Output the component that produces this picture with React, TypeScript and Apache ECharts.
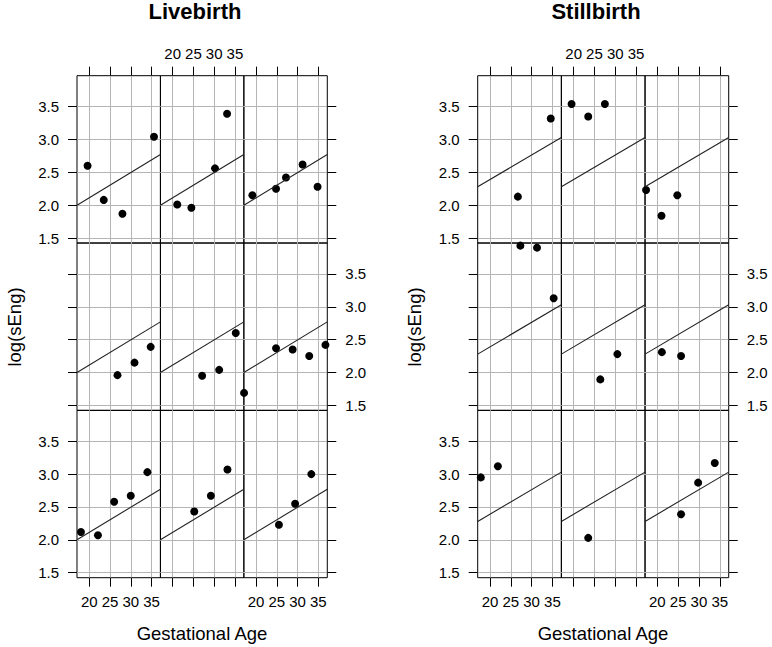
import React, { useEffect, useRef } from "react";
import * as echarts from "echarts";

// Axis ranges and ticks
const X_MIN = 17.05;
const X_MAX = 37.15;
const Y_MIN = 1.424;
const Y_MAX = 3.97;
const X_TICKS = [20, 25, 30, 35];
const Y_TICKS = [1.5, 2.0, 2.5, 3.0, 3.5];

const PANEL_TITLES = ["Livebirth", "Stillbirth"];
const X_TITLE = "Gestational Age";
const Y_TITLE = "log(sEng)";

// Fitted line (start/end) per panel
const LINE_X = [17.05, 37.15];
const LIVE_LINE_Y = [2.0, 2.77];
const STILL_LINE_Y = [2.28, 3.03];

// Livebirth points, sub-panels ordered row by row (top-left first)
const LIVE_X = [
  [19.6, 23.5, 28.0, 35.6],
  [21.1, 24.5, 30.2, 33.1],
  [19.1, 24.8, 27.2, 31.2, 34.8],
  [26.8, 30.9, 34.8],
  [27.1, 31.2, 35.2],
  [17.1, 24.8, 28.8, 32.8, 36.7],
  [18.0, 22.1, 26.0, 30.0, 34.0],
  [25.2, 29.2, 33.2],
  [25.5, 29.4, 33.3],
];
const LIVE_Y = [
  [2.6, 2.08, 1.87, 3.04],
  [2.01, 1.96, 2.56, 3.39],
  [2.15, 2.25, 2.42, 2.62, 2.28],
  [1.96, 2.15, 2.39],
  [1.95, 2.04, 2.6],
  [1.69, 2.37, 2.35, 2.25, 2.42],
  [2.12, 2.07, 2.58, 2.67, 3.03],
  [2.43, 2.67, 3.07],
  [2.23, 2.55, 3.0],
];

// Stillbirth points
const STILL_X = [
  [26.7, 34.6],
  [19.5, 23.5, 27.5],
  [17.3, 21.0, 24.8],
  [27.3, 31.3, 35.3],
  [26.4, 30.5],
  [21.1, 25.7],
  [17.8, 21.9, 29.9],
  [23.5],
  [25.7, 29.8, 33.8],
];
const STILL_Y = [
  [2.13, 3.32],
  [3.54, 3.35, 3.54],
  [2.23, 1.84, 2.15],
  [3.93, 3.9, 3.13],
  [1.895, 2.28],
  [2.31, 2.25],
  [2.95, 3.12, 1.41],
  [2.03],
  [2.39, 2.87, 3.17],
];

const FONT = "'Liberation Sans', Arial, Helvetica, sans-serif";

export default function App() {
  const ref = useRef<HTMLDivElement>(null);

  useEffect(() => {
    if (!ref.current) return;
    const chart = echarts.init(ref.current, undefined, { renderer: "svg" });

    const panels = [
      { left: 77, colW: 83.43, xs: LIVE_X, ys: LIVE_Y, line: LIVE_LINE_Y },
      { left: 477.7, colW: 83.67, xs: STILL_X, ys: STILL_Y, line: STILL_LINE_Y },
    ];
    const rowTop = 75.7;
    const rowH = 167.33;

    const grids: any[] = [];
    const xAxes: any[] = [];
    const yAxes: any[] = [];
    const series: any[] = [];

    const labelStyle = { fontSize: 15, color: "#000", fontFamily: FONT };
    const tickStyle = { color: "#000", width: 1 };
    const gridLine = { color: "#b5b5b5", width: 1 };

    panels.forEach((p) => {
      for (let r = 0; r < 3; r++) {
        for (let c = 0; c < 3; c++) {
          const k = r * 3 + c;
          const g = grids.length;
          grids.push({
            left: p.left + c * p.colW,
            top: rowTop + r * rowH,
            width: p.colW,
            height: rowH,
            show: true,
            borderColor: "#000",
            borderWidth: 1,
            backgroundColor: "transparent",
            containLabel: false,
          });
          const xi = xAxes.length;
          xAxes.push({
            gridIndex: g,
            type: "value",
            min: X_MIN,
            max: X_MAX,
            position: "bottom",
            axisLine: { show: false },
            axisTick: { show: r === 2, length: 9, inside: false, customValues: X_TICKS, lineStyle: tickStyle },
            axisLabel: { show: r === 2 && c !== 1, customValues: X_TICKS, margin: 16, ...labelStyle },
            splitLine: { show: true, lineStyle: gridLine },
          });
          if (r === 0) {
            xAxes.push({
              gridIndex: g,
              type: "value",
              min: X_MIN,
              max: X_MAX,
              position: "top",
              axisLine: { show: false },
              axisTick: { show: true, length: 9, inside: false, customValues: X_TICKS, lineStyle: tickStyle },
              axisLabel: { show: c === 1, customValues: X_TICKS, margin: 15, ...labelStyle },
              splitLine: { show: false },
            });
          }
          const yi = yAxes.length;
          yAxes.push({
            gridIndex: g,
            type: "value",
            min: Y_MIN,
            max: Y_MAX,
            position: "left",
            axisLine: { show: false },
            axisTick: { show: c === 0, length: 9, inside: false, customValues: Y_TICKS, lineStyle: tickStyle },
            axisLabel: {
              show: c === 0 && r !== 1,
              customValues: Y_TICKS,
              margin: 18,
              formatter: (v: number) => v.toFixed(1),
              ...labelStyle,
            },
            splitLine: { show: true, lineStyle: gridLine },
          });
          if (c === 2) {
            yAxes.push({
              gridIndex: g,
              type: "value",
              min: Y_MIN,
              max: Y_MAX,
              position: "right",
              axisLine: { show: false },
              axisTick: { show: true, length: 9, inside: false, customValues: Y_TICKS, lineStyle: tickStyle },
              axisLabel: {
                show: r === 1,
                customValues: Y_TICKS,
                margin: 18,
                formatter: (v: number) => v.toFixed(1),
                ...labelStyle,
              },
              splitLine: { show: false },
            });
          }
          series.push({
            type: "line",
            xAxisIndex: xi,
            yAxisIndex: yi,
            data: LINE_X.map((x, i) => [x, p.line[i]]),
            showSymbol: false,
            symbol: "none",
            lineStyle: { color: "#222", width: 1.1 },
            silent: true,
            clip: true,
          });
          series.push({
            type: "scatter",
            xAxisIndex: xi,
            yAxisIndex: yi,
            data: p.xs[k].map((x, i) => [x, p.ys[k][i]]),
            symbol: "circle",
            symbolSize: 8,
            itemStyle: { color: "#000", opacity: 1 },
            silent: true,
            clip: true,
          });
        }
      }
    });

    const titleCenters = [195, 596];
    const xTitleCenters = [202, 603];
    const yTitleCenters = [14, 414];

    const graphic: any[] = [];
    PANEL_TITLES.forEach((t, i) => {
      graphic.push({
        type: "text",
        x: titleCenters[i],
        y: 11,
        style: {
          text: t,
          font: `bold 22px ${FONT}`,
          fill: "#000",
          textAlign: "center",
          textVerticalAlign: "middle",
        },
      });
      graphic.push({
        type: "text",
        x: xTitleCenters[i],
        y: 633.5,
        style: {
          text: X_TITLE,
          font: `18.5px ${FONT}`,
          fill: "#000",
          textAlign: "center",
          textVerticalAlign: "middle",
        },
      });
      graphic.push({
        type: "text",
        x: yTitleCenters[i],
        y: 327,
        rotation: Math.PI / 2,
        style: {
          text: Y_TITLE,
          font: `18.5px ${FONT}`,
          fill: "#000",
          textAlign: "center",
          textVerticalAlign: "middle",
        },
      });
    });

    chart.setOption({
      animation: false,
      backgroundColor: "#fff",
      grid: grids,
      xAxis: xAxes,
      yAxis: yAxes,
      series,
      graphic,
    });

    return () => chart.dispose();
  }, []);

  return (
    <div
      ref={ref}
      style={{ position: "fixed", left: 0, top: 0, width: 772, height: 647 }}
    />
  );
}
